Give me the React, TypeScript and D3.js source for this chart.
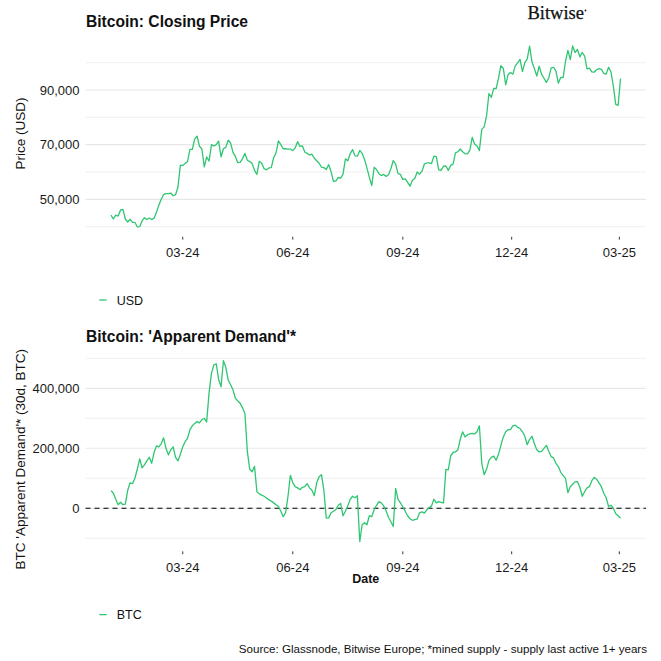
import React from 'react';
import * as d3 from 'd3';

// ---------- DATA ----------
const START_DATE = '2024-01-01';
const STEP_DAYS = 2;

// Bitcoin closing price, thousands of USD, every 2 days from 2024-01-01
const priceUsdThousands = [
  44.2, 42.8, 44.2, 43.9, 46.1, 46.3, 42.8, 41.7, 42.7, 41.6, 41.6, 39.9, 40.0, 42.1, 43.3, 42.6,
  43.2, 42.6, 43.1, 45.3, 47.8, 50.0, 51.8, 52.1, 52.1, 52.3, 51.3, 51.7, 54.5, 62.5,
  62.4, 63.1, 63.8, 68.3, 68.3, 72.1, 73.1, 69.4, 68.4, 61.9, 65.5, 64.0, 70.0, 69.5, 70.0, 71.3,
  65.5, 68.5, 69.0, 71.6, 70.6, 67.2, 65.7, 63.4, 63.5, 64.9, 66.8, 64.3, 63.8, 63.1, 60.6,
  59.1, 63.9, 63.2, 61.2, 60.8, 61.5, 61.6, 65.2, 67.0, 71.4, 70.0, 68.5, 68.5, 68.4, 68.4,
  67.8, 68.8, 71.1, 69.3, 69.6, 67.3, 66.8, 66.2, 66.5, 65.0, 64.1, 63.2, 61.8, 61.6, 60.9,
  62.7, 60.2, 56.6, 56.7, 58.0, 57.7, 59.2, 64.8, 64.1, 66.7, 68.2, 65.9, 65.8, 67.9, 66.8, 64.6,
  61.4, 58.1, 55.0, 61.7, 60.9, 59.4, 58.7, 59.1, 58.4, 59.0, 61.2, 64.2, 62.9, 59.4, 59.1,
  57.3, 57.5, 56.2, 54.8, 57.0, 57.6, 60.0, 59.2, 60.3, 62.9, 63.3, 63.3, 63.1, 65.8, 65.6,
  60.8, 60.6, 62.1, 62.2, 60.6, 62.4, 62.9, 67.0, 67.4, 68.4, 67.4, 66.7, 66.6, 67.9, 72.7, 70.2,
  69.5, 67.8, 75.6, 76.5, 80.5, 88.7, 87.3, 90.6, 90.5, 94.3, 98.9, 97.9, 91.9, 95.6, 96.4,
  95.8, 98.8, 99.9, 101.2, 96.7, 100.0, 101.4, 106.0, 100.2, 97.8, 95.1, 98.7, 95.8, 94.3, 92.8,
  94.4, 98.1, 98.3, 96.9, 92.5, 94.6, 94.5, 100.5, 104.5, 101.1, 106.1, 103.7, 104.8, 102.1, 103.7, 102.4,
  97.7, 98.0, 96.6, 96.5, 97.4, 97.8, 97.5, 96.1, 95.8, 98.3, 96.6, 91.4, 84.7, 84.4,
  94.2,
];

// 'Apparent Demand' (30d), thousands of BTC, every 2 days from 2024-01-01
const demandBtcThousands = [
  59, 50, 30, 12, 20, 12, 14, 60, 85, 82, 100, 130, 165, 135, 145, 158,
  170, 150, 185, 208, 205, 215, 235, 200, 178, 195, 205, 170, 158, 180, 205, 222,
  233, 262, 275, 283, 289, 285, 295, 300, 288, 385, 450, 478, 482, 430, 405, 492,
  470, 428, 412, 395, 367, 358, 350, 335, 315, 190, 130, 122, 140, 55, 48, 44,
  40, 34, 28, 24, 18, 12, 6, -10, -28, -15, 40, 110, 85, 72, 68, 62,
  70, 72, 82, 68, 60, 42, 85, 105, 112, 60, -33, -32, -15, -10, -5, 10,
  16, -25, -10, 8, 30, 40, 35, 42, -111, -55, -48, -55, -25, -28, -5, 10,
  22, 18, 8, -8, -30, -45, -61, 66, 30, 18, 5, -10, -25, -35, -40, -38,
  -36, -15, -12, -16, -6, 2, 8, 30, 18, 22, 20, 18, 130, 128, 175, 186,
  188, 195, 230, 255, 238, 245, 248, 250, 248, 255, 275, 150, 112, 130, 160, 170,
  174, 160, 180, 210, 238, 255, 262, 262, 275, 277, 270, 266, 255, 240, 212, 230,
  240, 215, 195, 188, 190, 200, 210, 190, 172, 168, 150, 139, 120, 110, 100, 52,
  72, 80, 88, 89, 70, 40, 55, 68, 72, 92, 103, 97, 85, 72, 50, 35,
  6, 10, 0, -18, -25, -33,
];

const xTickDates = ['2024-03-01', '2024-06-01', '2024-09-01', '2024-12-01', '2025-03-01'];
const priceMajorTicks = [50, 70, 90];
const priceMinorTicks = [40, 60, 80, 100];
const demandMajorTicks = [0, 200, 400];
const demandMinorTicks = [-100, 100, 300, 500];

const TITLE_PRICE = 'Bitcoin: Closing Price';
const TITLE_DEMAND = "Bitcoin: 'Apparent Demand'*";
const YLABEL_PRICE = 'Price (USD)';
const YLABEL_DEMAND = "BTC 'Apparent Demand'* (30d, BTC)";
const LEGEND_PRICE = 'USD';
const LEGEND_DEMAND = 'BTC';
const XLABEL = 'Date';
const SOURCE = 'Source: Glassnode, Bitwise Europe; *mined supply - supply last active 1+ years';
const BRAND = 'Bitwise';

// ---------- LAYOUT ----------
const W = 661;
const H = 661;
const LEFT = 85.5;
const RIGHT = 646;
const GREEN = '#2fc672';
const SANS = '"Liberation Sans", Arial, Helvetica, sans-serif';
const SERIF = '"Liberation Serif", "Times New Roman", serif';

const parse = d3.timeParse('%Y-%m-%d');
const start = parse(START_DATE) as Date;
const dates = priceUsdThousands.map((_, i) => d3.timeDay.offset(start, i * STEP_DAYS));

function expand(ext: [number, number]): [number, number] {
  const pad = (ext[1] - ext[0]) * 0.05;
  return [ext[0] - pad, ext[1] + pad];
}

const tExt = d3.extent(dates.map((d) => +d)) as [number, number];
const x = d3.scaleTime().domain(expand(tExt).map((v) => new Date(v))).range([LEFT, RIGHT]);
const fmtTick = d3.timeFormat('%m-%y');
const fmtNum = d3.format(',');

type PanelProps = {
  top: number;
  bottom: number;
  values: number[];
  major: number[];
  minor: number[];
  title: string;
  ylabel: string;
  ylabelShift: number;
  legend: string;
  zeroLine?: boolean;
  xlabel?: string;
};

function Panel({ top, bottom, values, major, minor, title, ylabel, ylabelShift, legend, zeroLine, xlabel }: PanelProps) {
  const y = d3
    .scaleLinear()
    .domain(expand(d3.extent(values) as [number, number]))
    .range([bottom, top]);
  const line = d3
    .line<number>()
    .x((_, i) => x(dates[i]))
    .y((v) => y(v));
  const legendY = bottom + 64;
  return (
    <g>
      <text x={86} y={top - 10.2} fontFamily={SANS} fontWeight="bold" fontSize={15.6} fill="#111">
        {title}
      </text>
      {minor.map((v) => (
        <line key={'mi' + v} x1={LEFT} x2={RIGHT} y1={y(v)} y2={y(v)} stroke="#ececec" strokeWidth={0.8} />
      ))}
      {major.map((v) => (
        <line key={'ma' + v} x1={LEFT} x2={RIGHT} y1={y(v)} y2={y(v)} stroke="#e8e8e8" strokeWidth={1.1} />
      ))}
      {major.map((v) => (
        <text
          key={'yl' + v}
          x={79.5}
          y={y(v)}
          dy="0.36em"
          textAnchor="end"
          fontFamily={SANS}
          fontSize={13}
          fill="#1a1a1a"
        >
          {fmtNum(v * 1000)}
        </text>
      ))}
      <text
        transform={`translate(25,${(top + bottom) / 2 + ylabelShift}) rotate(-90)`}
        textAnchor="middle"
        fontFamily={SANS}
        fontSize={13.5}
        fill="#111"
      >
        {ylabel}
      </text>
      {zeroLine && (
        <line x1={LEFT} x2={RIGHT} y1={y(0)} y2={y(0)} stroke="#000" strokeWidth={1.1} strokeDasharray="5,4" />
      )}
      <path d={line(values) || ''} fill="none" stroke={GREEN} strokeWidth={1.3} strokeLinejoin="round" />
      {xTickDates.map((s) => {
        const dt = parse(s) as Date;
        const xx = x(dt);
        return (
          <g key={s}>
            <line x1={xx} x2={xx} y1={bottom + 0.8} y2={bottom + 3.6} stroke="#333" strokeWidth={1} />
            <text x={xx} y={bottom + 21} textAnchor="middle" fontFamily={SANS} fontSize={13} fill="#1a1a1a">
              {fmtTick(dt)}
            </text>
          </g>
        );
      })}
      {xlabel && (
        <text
          x={(LEFT + RIGHT) / 2}
          y={bottom + 32.5}
          textAnchor="middle"
          fontFamily={SANS}
          fontWeight="bold"
          fontSize={12.5}
          fill="#111"
        >
          {xlabel}
        </text>
      )}
      <line x1={99.3} x2={106.7} y1={legendY} y2={legendY} stroke={GREEN} strokeWidth={1.3} />
      <text x={116.7} y={legendY + 4.6} fontFamily={SANS} fontSize={12.5} fill="#111">
        {legend}
      </text>
    </g>
  );
}

export default function App() {
  return (
    <svg
      width={W}
      height={H}
      viewBox={`0 0 ${W} ${H}`}
      style={{ position: 'absolute', left: 0, top: 0, background: '#fff' }}
    >
      <rect x={0} y={0} width={W} height={H} fill="#fff" />
      <Panel
        top={36.9}
        bottom={236}
        values={priceUsdThousands}
        major={priceMajorTicks}
        minor={priceMinorTicks}
        title={TITLE_PRICE}
        ylabel={YLABEL_PRICE}
        ylabelShift={-3}
        legend={LEGEND_PRICE}
      />
      <Panel
        top={351.7}
        bottom={550.6}
        values={demandBtcThousands}
        major={demandMajorTicks}
        minor={demandMinorTicks}
        title={TITLE_DEMAND}
        ylabel={YLABEL_DEMAND}
        ylabelShift={8}
        legend={LEGEND_DEMAND}
        zeroLine
        xlabel={XLABEL}
      />
      <text x={527.5} y={19} fontFamily={SERIF} fontSize={18.5} fill="#111" stroke="#111" strokeWidth={0.25}>
        {BRAND}
      </text>
      <circle cx={585.5} cy={10.5} r={0.9} fill="#111" />
      <text x={647} y={652.7} textAnchor="end" fontFamily={SANS} fontSize={11.6} fill="#111">
        {SOURCE}
      </text>
    </svg>
  );
}
